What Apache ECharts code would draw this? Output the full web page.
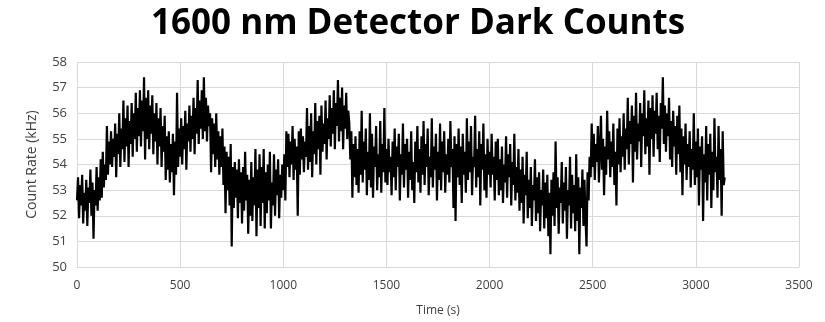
<!DOCTYPE html>
<html>
<head>
<meta charset="utf-8">
<script src="https://cdn.jsdelivr.net/npm/echarts@6/dist/echarts.min.js"></script>
<style>
html,body{margin:0;padding:0;background:#fff;}
#chart{width:825px;height:322px;}
</style>
</head>
<body>
<div id="chart"></div>
<script>
// Chart text
var chartTitle = "1600 nm Detector Dark Counts";
var xAxisName = "Time (s)";
var yAxisName = "Count Rate (kHz)";

// Sampling of the estimated series (seconds between readings)
var startTime = 0;
var timeStep = 5;

// Count rate (kHz), in 500 s segments
var rate0to500 = [
52.6,53.5,51.9,53.2,52.4,53.6,51.7,52.9,52.2,53.4,
51.6,53.1,52.5,53.8,52.0,53.3,51.1,53.0,52.4,53.9,
52.2,53.5,52.6,54.2,52.7,54.5,53.1,54.0,53.4,55.5,
53.6,54.9,54.0,55.3,53.9,55.0,54.3,55.6,53.5,55.2,
54.4,56.0,53.9,55.4,54.6,56.5,54.1,55.8,54.7,56.3,
53.9,55.7,54.8,56.4,54.3,56.0,55.0,56.8,54.5,56.2,
55.1,56.9,54.7,56.5,55.3,57.4,54.2,56.6,55.0,56.9,
54.6,56.3,55.2,56.7,54.4,56.0,54.9,56.4,54.0,55.8,
54.7,56.2,53.9,55.5,54.5,55.9,53.4,55.1,53.8,55.3,
53.3,54.8,53.7,55.2,52.8,54.9,53.6,56.8,53.9,55.4
];
var rate500to1000 = [
54.3,55.8,54.0,55.5,54.6,56.1,53.8,55.6,54.9,56.3,
54.5,55.9,55.0,56.6,54.4,56.2,55.2,57.3,54.8,56.5,
55.4,56.9,55.0,57.4,55.3,56.6,54.9,56.3,55.5,56.0,
53.7,55.8,54.4,55.6,53.9,56.0,54.2,55.3,53.6,55.1,
53.9,55.4,53.2,54.7,52.1,54.5,53.0,54.3,52.4,54.8,
50.8,53.9,52.3,54.1,52.7,53.8,51.9,54.2,52.5,53.7,
51.7,53.9,52.2,54.5,52.6,53.6,51.3,53.4,52.0,54.1,
51.8,53.5,52.4,54.6,51.2,53.8,52.3,54.4,51.6,53.9,
52.5,54.6,51.5,53.7,52.1,54.0,52.6,54.5,51.5,53.3,
52.4,54.4,52.0,53.8,52.8,54.2,51.9,53.6,52.7,54.0
];
var rate1000to1500 = [
53.0,54.4,52.6,55.3,53.9,55.2,53.5,54.9,54.0,55.5,
53.4,55.0,53.8,54.7,52.0,55.3,53.6,55.4,54.2,55.1,
53.7,54.9,54.3,56.2,53.8,55.5,54.1,56.0,53.5,55.3,
54.4,56.4,54.0,55.7,54.6,55.9,53.6,56.3,54.5,55.6,
54.8,56.5,54.2,55.8,55.0,56.7,54.7,56.2,55.2,56.9,
54.6,56.4,55.5,57.3,54.9,56.6,55.3,57.0,54.6,56.3,
55.4,56.8,55.0,56.1,55.6,54.2,55.3,52.7,54.8,53.5,
55.1,53.2,54.6,52.9,55.3,53.6,56.1,53.3,54.9,53.8,
55.4,52.8,54.5,53.4,56.0,53.1,55.2,52.7,54.7,53.9,
55.5,53.0,54.4,53.5,55.7,52.9,54.8,53.7,56.2,53.3
];
var rate1500to2000 = [
54.6,53.2,55.0,53.7,54.3,52.8,54.9,53.5,55.4,53.0,
54.7,53.9,55.2,52.6,54.4,53.6,55.6,53.1,54.8,53.8,
55.0,52.7,54.5,53.4,55.3,53.0,54.1,52.5,54.9,53.7,
55.5,53.3,54.6,52.9,55.1,53.6,55.7,53.2,54.8,53.9,
55.4,52.8,54.3,53.5,55.8,53.1,54.7,53.8,55.2,52.6,
54.5,53.4,55.6,53.0,54.9,53.7,55.3,52.9,54.4,53.6,
55.0,53.3,55.7,53.9,54.6,52.3,55.1,51.8,54.8,53.5,
55.4,53.2,54.7,52.5,55.2,53.6,54.5,52.9,55.8,53.4,
54.9,53.7,55.5,52.8,54.3,53.9,55.9,53.1,54.6,53.5,
55.3,52.4,54.8,53.8,55.6,53.0,54.4,52.7,55.0,53.6
];
var rate2000to2500 = [
54.5,53.1,55.2,53.6,54.3,52.6,54.9,53.4,55.0,52.8,
54.2,53.0,54.7,52.5,54.0,53.3,55.1,52.7,54.4,53.5,
54.8,52.4,54.1,53.2,55.2,52.6,53.9,52.9,54.6,52.2,
53.8,52.5,54.3,51.7,53.6,52.8,54.5,51.9,53.4,52.3,
53.9,51.6,53.2,52.6,54.2,51.8,53.5,52.1,53.7,51.4,
53.0,52.4,53.8,51.5,53.3,51.9,53.6,51.2,52.9,50.5,
53.4,52.0,53.7,51.6,54.9,52.3,53.5,51.3,53.1,52.5,
54.1,51.7,53.3,52.2,53.9,51.1,53.0,52.4,54.3,51.5,
53.6,52.1,53.2,51.4,54.4,51.8,53.5,50.5,53.1,52.3,
53.8,51.6,53.4,51.9,50.8,53.7,52.6,54.3,53.5,55.6
];
var rate2500to3000 = [
53.9,55.2,53.4,54.8,54.1,55.5,53.3,54.6,55.9,53.8,
55.0,52.8,54.7,53.6,56.1,54.2,55.3,53.5,54.9,53.9,
55.6,53.2,54.5,52.4,55.4,54.0,55.8,53.7,55.1,54.3,
56.0,53.8,55.4,54.6,56.6,54.0,55.7,54.8,56.3,53.3,
55.9,54.5,56.8,54.2,55.6,54.9,56.4,53.9,56.0,55.1,
56.9,54.4,55.8,54.7,56.5,53.6,56.2,55.0,56.7,54.3,
56.1,55.2,56.8,54.6,55.9,54.1,56.4,55.4,57.4,54.8,
56.3,54.5,56.0,55.1,56.6,54.2,55.7,53.9,56.1,54.7,
55.5,53.6,55.9,54.4,56.3,53.7,55.4,52.8,55.1,54.0,
55.6,53.4,54.8,53.9,55.3,53.1,54.6,53.8,56.0,53.2
];
var rate3000toEnd = [
54.9,53.5,55.4,52.4,54.7,53.8,55.1,51.8,54.4,53.3,
55.5,52.6,54.8,53.6,55.2,52.3,54.5,53.0,55.8,53.7,
54.3,52.7,55.5,53.4,54.6,52.0,55.3,53.2,53.5
];

// Axis ranges and ticks
var xMin = 0, xMax = 3500, xInterval = 500;
var yMin = 50, yMax = 58, yInterval = 1;

var countRate = [].concat(rate0to500, rate500to1000, rate1000to1500,
  rate1500to2000, rate2000to2500, rate2500to3000, rate3000toEnd);
var seriesData = countRate.map(function (v, i) { return [startTime + i * timeStep, v]; });

var fontFam = "'Open Sans', 'Liberation Sans', sans-serif";
var chart = echarts.init(document.getElementById('chart'), null, {renderer: 'canvas'});
chart.setOption({
  animation: false,
  backgroundColor: '#ffffff',
  title: {
    text: chartTitle,
    left: 146,
    top: 2,
    textStyle: {fontFamily: fontFam, fontWeight: 'bold', fontSize: 35, color: '#000000'}
  },
  grid: {left: 77, right: 26, top: 62, bottom: 54, containLabel: false, show: false},
  xAxis: {
    type: 'value', min: xMin, max: xMax, interval: xInterval,
    name: xAxisName, nameLocation: 'middle', nameGap: 38,
    nameTextStyle: {fontFamily: fontFam, fontSize: 12, color: '#404040'},
    axisLine: {show: true, lineStyle: {color: '#d9d9d9', width: 1}},
    axisTick: {show: false},
    axisLabel: {fontFamily: fontFam, fontSize: 12, color: '#404040', margin: 13,
      formatter: function (v) { return String(v); }},
    splitLine: {show: true, lineStyle: {color: '#d9d9d9', width: 1}}
  },
  yAxis: {
    type: 'value', min: yMin, max: yMax, interval: yInterval,
    name: yAxisName, nameLocation: 'middle', nameGap: 38, nameRotate: 90,
    nameTextStyle: {fontFamily: fontFam, fontSize: 14, color: '#404040'},
    axisLine: {show: false},
    axisTick: {show: false},
    axisLabel: {fontFamily: fontFam, fontSize: 13, color: '#404040', margin: 10},
    splitLine: {show: true, lineStyle: {color: '#d9d9d9', width: 1}}
  },
  series: [{
    type: 'line',
    data: seriesData,
    showSymbol: false,
    symbol: 'none',
    sampling: null,
    lineStyle: {color: '#000000', width: 2.2},
    itemStyle: {color: '#000000'}
  }]
});
</script>
</body>
</html>
